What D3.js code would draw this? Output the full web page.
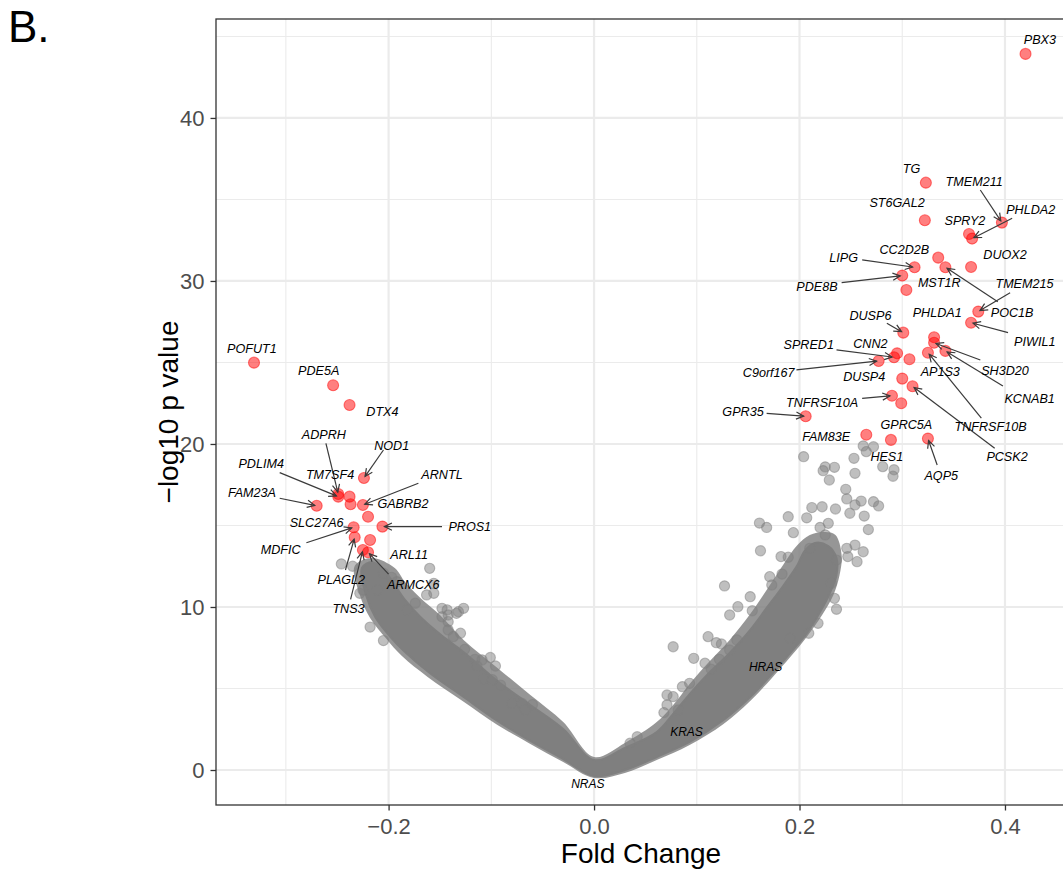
<!DOCTYPE html>
<html><head><meta charset="utf-8">
<script src="https://cdn.jsdelivr.net/npm/d3@7"></script>
<style>body{margin:0;background:#fff}svg{display:block}</style>
</head><body>
<svg id="chart" width="1063" height="878"></svg>
<script>
// ---------------- data ----------------
const xTicks = [-0.2, 0.0, 0.2, 0.4];
const xTickLabels = ["\u22120.2", "0.0", "0.2", "0.4"];
const xMinor = [-0.3, -0.1, 0.1, 0.3];
const yTicks = [0, 10, 20, 30, 40];
const yTickLabels = ["0", "10", "20", "30", "40"];
const yMinor = [5, 15, 25, 35, 45];

// significant genes (red)
const sigGenes = ["PBX3","TG","ST6GAL2","TMEM211","SPRY2","PHLDA2","CC2D2B","DUOX2","LIPG","POC1B","PDE8B","MST1R","TMEM215","PIWIL1","DUSP6","PHLDA1","SH3D20","KCNAB1","TNFRSF10B","CNN2","SPRED1","AP1S3","C9orf167","DUSP4","PCSK2","TNFRSF10A","GPRC5A","GPR35","FAM83E","HES1","AQP5",
  "POFUT1","PDE5A","DTX4","NOD1","ADPRH","PDLIM4","TM7SF4","SLC27A6","ARNTL","GABRB2","FAM23A","PROS1","MDFIC","PLAGL2","ARL11","TNS3","ARMCX6"];
const sigFC = [0.420,0.323,0.322,0.397,0.365,0.368,0.335,0.367,0.312,0.342,0.300,0.304,0.374,0.367,0.301,0.331,0.331,0.342,0.325,0.295,0.292,0.307,0.277,0.300,0.310,0.290,0.299,0.206,0.265,0.289,0.325,
  -0.331,-0.254,-0.238,-0.224,-0.249,-0.249,-0.238,-0.237,-0.225,-0.220,-0.270,-0.206,-0.234,-0.233,-0.218,-0.225,-0.220];
const sigLogP = [43.93,36.03,33.72,33.58,32.88,32.60,31.43,30.86,30.84,30.84,30.33,29.45,28.12,27.44,26.83,26.55,26.21,25.71,25.60,25.56,25.32,25.20,25.09,24.01,23.54,22.96,22.50,21.70,20.57,20.25,20.33,
  24.99,23.60,22.39,17.91,16.93,16.77,16.77,16.30,16.26,15.54,16.21,14.93,14.89,14.28,14.11,13.50,13.36];

// RAS genes (labelled, hidden under the cloud)
const rasGenes = ["HRAS","KRAS","NRAS"];
const rasFC = [0.152, 0.074, 0.000];
const rasLogP = [5.77, 1.78, 0.05];

// dense core of the non-significant genes: outline (fold change, -log10 p)
const cloudFC = [-0.226,-0.222,-0.213,-0.199,-0.184,-0.160,-0.127,-0.094,-0.062,-0.030,0.000,
  0.030,0.061,0.093,0.126,0.152,0.174,0.191,0.207,0.220,0.230,0.236,0.236,0.228,
  0.215,0.205,0.198,0.184,0.168,0.152,0.132,0.110,0.093,0.077,0.061,0.030,0.000,
  -0.030,-0.062,-0.094,-0.127,-0.150,-0.169,-0.184,-0.194,-0.203,-0.216];
const cloudLogP = [12.39,10.74,9.39,8.22,7.24,5.95,4.48,3.01,1.78,0.67,-0.37,
  0.00,0.80,1.72,3.07,4.48,5.95,7.18,8.40,9.69,10.92,11.96,13.01,13.74,
  13.93,13.44,12.58,11.29,9.94,8.59,7.18,5.83,4.66,3.44,2.33,1.35,0.61,
  2.52,3.99,5.46,7.24,8.34,9.39,10.43,11.35,12.15,12.76];

// looser halo of overlapping genes around the core: outline
const haloFC = [-0.233,-0.228,-0.218,-0.202,-0.187,-0.162,-0.128,-0.094,-0.062,-0.030,0.000,
  0.030,0.061,0.093,0.126,0.152,0.174,0.191,0.207,0.222,0.233,0.239,0.241,0.235,
  0.225,0.210,0.198,0.184,0.168,0.152,0.132,0.110,0.093,0.077,0.061,0.030,0.000,
  -0.030,-0.062,-0.094,-0.127,-0.150,-0.169,-0.184,-0.194,-0.216];
const haloLogP = [12.52,10.74,9.33,8.04,6.99,5.71,4.23,2.76,1.60,0.49,-0.49,
  -0.18,0.61,1.53,2.82,4.23,5.71,6.93,8.16,9.51,10.74,11.96,13.19,14.42,
  14.60,14.42,13.80,12.58,11.04,9.57,7.98,6.50,5.28,3.99,2.94,1.66,0.80,
  2.94,4.60,6.26,7.98,9.51,10.55,11.53,12.39,13.01];

// scattered non-significant genes outside the dense cloud
const bgFC = [0.204,0.225,0.234,0.223,0.229,0.253,0.254,0.245,0.246,0.260,0.272,0.277,0.249,0.263,0.267,0.235,0.222,0.212,0.207,0.189,0.161,0.168,0.194,0.220,0.228,0.225,0.162,0.182,0.189,0.210,0.246,0.254,0.262,0.247,0.256,0.236,0.127,0.152,0.140,0.132,0.154,0.171,0.173,0.183,0.231,0.236,0.234,0.218,0.209,0.077,0.111,0.119,0.124,0.097,0.108,0.114,0.122,0.132,0.139,0.086,0.093,0.071,0.077,0.071,0.068,0.082,0.042,0.035,0.191,0.262,0.265,0.272,0.281,0.292,0.291,0.254,
  -0.246,-0.235,-0.205,-0.160,-0.197,-0.192,-0.156,-0.156,-0.163,-0.174,-0.182,-0.132,-0.127,-0.148,-0.148,-0.142,-0.142,-0.130,-0.137,-0.126,-0.205,-0.218,-0.116,-0.109,-0.101,-0.096,-0.114,-0.107,-0.099,-0.091,-0.080,-0.070,-0.060,-0.067,-0.211,-0.225,-0.228,-0.143,-0.142,-0.134];
const bgLogP = [19.22,18.59,18.57,18.36,17.79,19.12,18.20,17.22,16.63,16.50,16.46,16.20,15.75,15.58,14.75,16.01,16.15,16.10,15.47,15.54,15.15,14.88,14.56,14.88,15.13,14.42,13.45,13.09,13.05,13.60,13.60,13.80,13.39,13.09,12.78,12.88,11.29,10.63,10.02,9.51,9.77,11.86,11.35,12.02,11.45,9.86,10.53,9.00,8.39,7.56,8.18,7.81,7.73,6.85,6.55,6.18,6.79,7.36,7.98,5.11,5.32,4.60,4.50,3.99,3.52,3.68,2.04,1.64,8.08,19.88,19.53,19.83,18.61,18.42,18.02,16.26,
  12.64,12.50,12.07,12.37,11.82,11.55,11.45,10.84,10.74,10.23,9.82,9.71,9.92,9.40,9.92,9.10,8.59,8.39,8.18,7.40,7.94,8.77,6.79,6.75,6.90,6.38,6.38,5.60,5.54,5.21,4.09,4.08,4.01,3.70,11.04,11.04,10.84,9.82,9.51,9.61];

// ---------------- label layout (repel positions, data units) ----------------
// [gene, label x, label y, segment start x, segment start y] (no segment when null)
const labelLayout = [
  ["PBX3",0.434,44.83,null,null],["TG",0.309,36.91,null,null],["TMEM211",0.370,36.13,0.376,35.58],
  ["ST6GAL2",0.295,34.83,null,null],["SPRY2",0.361,33.74,null,null],["PHLDA2",0.425,34.36,0.407,33.85],
  ["CC2D2B",0.302,31.94,null,null],["DUOX2",0.400,31.64,null,null],["LIPG",0.243,31.43,0.261,31.29],
  ["PDE8B",0.217,29.69,0.241,29.90],["MST1R",0.336,29.90,null,null],["TMEM215",0.419,29.82,0.405,29.28],
  ["POC1B",0.407,28.08,0.393,28.73],["PHLDA1",0.334,28.08,null,null],["PIWIL1",0.429,26.28,0.403,26.83],
  ["DUSP6",0.269,27.91,0.285,27.40],["SPRED1",0.209,26.12,0.236,25.77],["CNN2",0.269,26.18,null,null],
  ["C9orf167",0.170,24.37,0.197,24.54],["DUSP4",0.263,24.13,null,null],["AP1S3",0.337,24.44,null,null],
  ["SH3D20",0.400,24.50,0.376,25.15],["KCNAB1",0.424,22.80,0.398,23.56],["TNFRSF10A",0.222,22.53,0.261,22.80],
  ["TNFRSF10B",0.386,21.06,0.377,21.58],["PCSK2",0.402,19.22,0.390,19.74],["GPR35",0.145,22.02,0.168,21.88],
  ["GPRC5A",0.304,21.17,null,null],["FAM83E",0.226,20.45,null,null],["HES1",0.285,19.26,null,null],
  ["AQP5",0.338,18.06,0.334,18.71],
  ["POFUT1",-0.333,25.87,null,null],["PDE5A",-0.268,24.48,null,null],["DTX4",-0.206,21.98,null,null],
  ["NOD1",-0.197,19.88,-0.205,19.63],["ADPRH",-0.263,20.60,-0.261,20.04],["PDLIM4",-0.324,18.82,-0.306,18.24],
  ["TM7SF4",-0.257,18.10,null,null],["ARNTL",-0.148,18.16,-0.171,17.59],["FAM23A",-0.333,17.01,-0.306,16.67],
  ["GABRB2",-0.186,16.36,null,null],["SLC27A6",-0.270,15.20,null,null],["PROS1",-0.121,14.93,-0.148,14.93],
  ["MDFIC",-0.305,13.50,-0.280,13.94],["ARL11",-0.180,13.25,null,null],["PLAGL2",-0.246,11.70,-0.242,12.27],
  ["ARMCX6",-0.176,11.39,-0.200,12.02],["TNS3",-0.239,9.92,-0.237,10.47],
  ["HRAS",0.167,6.34,null,null],["KRAS",0.090,2.35,null,null],["NRAS",-0.006,-0.86,null,null]
];

// ---------------- drawing ----------------
const W = 1063, H = 878;
const P = {left: 216, right: 1066, top: 19, bottom: 805};
const svg = d3.select("#chart");
const FONT = "'Liberation Sans', Arimo, Helvetica, Arial, sans-serif";

const x = d3.scaleLinear().domain([-0.368, 0.4594]).range([P.left, P.right]);
const y = d3.scaleLinear().domain([-2.147, 46.07]).range([P.bottom, P.top]);

svg.append("rect").attr("width", W).attr("height", H).attr("fill", "#fff");

const defs = svg.append("defs");
defs.append("clipPath").attr("id", "panelClip")
  .append("rect").attr("x", P.left).attr("y", P.top)
  .attr("width", P.right - P.left).attr("height", P.bottom - P.top);
defs.append("marker").attr("id", "arr")
  .attr("viewBox", "-9 -6 11 12").attr("refX", 0).attr("refY", 0)
  .attr("markerWidth", 11).attr("markerHeight", 12)
  .attr("markerUnits", "userSpaceOnUse").attr("orient", "auto")
  .append("path").attr("d", "M-7.5,-3.6L0,0L-7.5,3.6")
  .attr("fill", "none").attr("stroke", "#3a3a3a").attr("stroke-width", 1.2);

const panel = svg.append("g").attr("clip-path", "url(#panelClip)");

// grid
panel.selectAll(".gxm").data(xMinor).join("line")
  .attr("x1", d => x(d)).attr("x2", d => x(d)).attr("y1", P.top).attr("y2", P.bottom)
  .attr("stroke", "#ebebeb").attr("stroke-width", 1.1);
panel.selectAll(".gym").data(yMinor).join("line")
  .attr("y1", d => y(d)).attr("y2", d => y(d)).attr("x1", P.left).attr("x2", P.right)
  .attr("stroke", "#ebebeb").attr("stroke-width", 1.1);
panel.selectAll(".gx").data(xTicks).join("line")
  .attr("x1", d => x(d)).attr("x2", d => x(d)).attr("y1", P.top).attr("y2", P.bottom)
  .attr("stroke", "#ebebeb").attr("stroke-width", 2.2);
panel.selectAll(".gy").data(yTicks).join("line")
  .attr("y1", d => y(d)).attr("y2", d => y(d)).attr("x1", P.left).attr("x2", P.right)
  .attr("stroke", "#ebebeb").attr("stroke-width", 2.2);

const R = 5.1;
// RAS points (under the cloud)
panel.selectAll(".ras").data(rasGenes.map((g, i) => ({g, fc: rasFC[i], lp: rasLogP[i]}))).join("circle")
  .attr("cx", d => x(d.fc)).attr("cy", d => y(d.lp)).attr("r", R)
  .attr("fill", "red").attr("fill-opacity", 0.5).attr("stroke", "red").attr("stroke-opacity", 0.5).attr("stroke-width", 1.1);

const line = d3.line().x(d => x(d[0])).y(d => y(d[1])).curve(d3.curveCatmullRomClosed.alpha(0.5));
// halo
panel.append("path").attr("d", line(haloFC.map((v, i) => [v, haloLogP[i]])))
  .attr("fill", "#7f7f7f").attr("fill-opacity", 0.82).attr("stroke", "none");
// dense core
panel.append("path").attr("d", line(cloudFC.map((v, i) => [v, cloudLogP[i]])))
  .attr("fill", "#7f7f7f").attr("stroke", "#7f7f7f").attr("stroke-width", 2).attr("stroke-linejoin", "round");

// scattered grey points
panel.selectAll(".bg").data(bgFC.map((v, i) => ({fc: v, lp: bgLogP[i]}))).join("circle")
  .attr("cx", d => x(d.fc)).attr("cy", d => y(d.lp)).attr("r", R)
  .attr("fill", "#7f7f7f").attr("fill-opacity", 0.5)
  .attr("stroke", "#7f7f7f").attr("stroke-opacity", 0.5).attr("stroke-width", 1.1);

// significant red points
const sig = sigGenes.map((g, i) => ({g, fc: sigFC[i], lp: sigLogP[i]}));
panel.selectAll(".sig").data(sig).join("circle")
  .attr("cx", d => x(d.fc)).attr("cy", d => y(d.lp)).attr("r", R + 0.4)
  .attr("fill", "red").attr("fill-opacity", 0.5)
  .attr("stroke", "red").attr("stroke-opacity", 0.5).attr("stroke-width", 1.1);

// label segments + labels
const pointOf = {};
sig.forEach(d => pointOf[d.g] = d);
rasGenes.forEach((g, i) => pointOf[g] = {fc: rasFC[i], lp: rasLogP[i]});

const segs = labelLayout.filter(d => d[3] !== null).map(d => {
  const p = pointOf[d[0]];
  const x1 = x(d[3]), y1 = y(d[4]), x2 = x(p.fc), y2 = y(p.lp);
  const len = Math.hypot(x2 - x1, y2 - y1), k = (len - 2) / len;
  return {x1, y1, x2: x1 + (x2 - x1) * k, y2: y1 + (y2 - y1) * k};
});
svg.selectAll(".seg").data(segs).join("line")
  .attr("x1", d => d.x1).attr("y1", d => d.y1).attr("x2", d => d.x2).attr("y2", d => d.y2)
  .attr("stroke", "#3a3a3a").attr("stroke-width", 1.2).attr("marker-end", "url(#arr)");

svg.selectAll(".lab").data(labelLayout).join("text")
  .attr("x", d => x(d[1])).attr("y", d => y(d[2])).attr("dy", "0.36em")
  .attr("text-anchor", "middle").attr("font-family", FONT).attr("font-style", "italic")
  .attr("font-size", d => rasGenes.includes(d[0]) ? 12 : 12.6).attr("fill", "#000")
  .text(d => d[0]);

// panel border
svg.append("rect").attr("x", P.left).attr("y", P.top)
  .attr("width", P.right - P.left).attr("height", P.bottom - P.top)
  .attr("fill", "none").attr("stroke", "#333333").attr("stroke-width", 1.3);

// axes
const xAxis = svg.append("g").attr("transform", `translate(0,${P.bottom})`)
  .call(d3.axisBottom(x).tickValues(xTicks).tickFormat((d, i) => xTickLabels[i]).tickSize(5.5).tickPadding(4));
const yAxis = svg.append("g").attr("transform", `translate(${P.left},0)`)
  .call(d3.axisLeft(y).tickValues(yTicks).tickFormat((d, i) => yTickLabels[i]).tickSize(5.5).tickPadding(6));
[xAxis, yAxis].forEach(a => {
  a.select(".domain").remove();
  a.selectAll(".tick line").attr("stroke", "#333333").attr("stroke-width", 1.3);
  a.selectAll(".tick text").attr("fill", "#4d4d4d").attr("font-size", 22).attr("font-family", FONT);
});
xAxis.selectAll(".tick text").attr("dy", "0.9em");
yAxis.selectAll(".tick text").attr("dy", "0.36em");

// titles
svg.append("text").attr("x", (P.left + P.right) / 2).attr("y", 863)
  .attr("text-anchor", "middle").attr("font-family", FONT).attr("font-size", 28).attr("fill", "#000")
  .text("Fold Change");
svg.append("text").attr("transform", `translate(178,${(P.top + P.bottom) / 2}) rotate(-90)`)
  .attr("text-anchor", "middle").attr("font-family", FONT).attr("font-size", 28).attr("fill", "#000")
  .text("\u2212log10 p value");
svg.append("text").attr("x", 8).attr("y", 42)
  .attr("font-family", FONT).attr("font-size", 44).attr("fill", "#000").text("B.");
</script>
</body></html>
